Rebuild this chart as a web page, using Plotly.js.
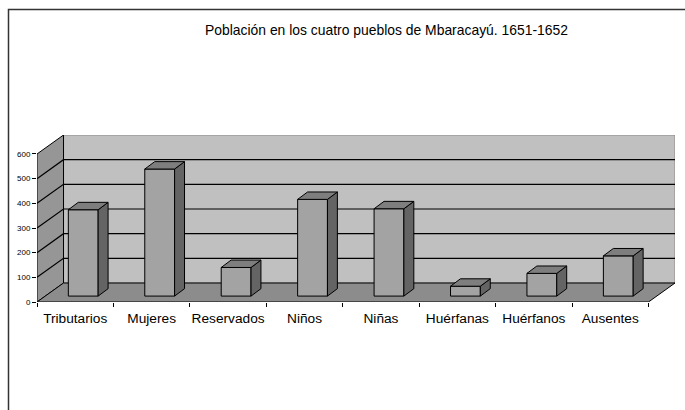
<!DOCTYPE html>
<html>
<head>
<meta charset="utf-8">
<script src="https://cdn.plot.ly/plotly-3.0.1.min.js"></script>
<style>
  html, body { margin: 0; padding: 0; background: #ffffff; }
  #chart { width: 685px; height: 410px; }
</style>
</head>
<body>
<div id="chart"></div>
<script>
// ---- data ----
const categories = ['Tributarios', 'Mujeres', 'Reservados', 'Niños', 'Niñas', 'Huérfanas', 'Huérfanos', 'Ausentes'];
const values = [350, 515, 116, 392, 354, 40, 92, 163];
const yTickVals = [0, 100, 200, 300, 400, 500, 600];
const yTickText = ['0', '100', '200', '300', '400', '500', '600'];
const titleText = 'Población en los cuatro pueblos de Mbaracayú. 1651-1652';

// ---- 3-D look (style constants) ----
const YMAX = 600;          // top of the value scale
const DX = 0.347;          // wall depth, category units
const DY = 77;             // wall depth, value units
const BDX = 0.105;         // bar front offset from front plane
const BDY = 24;
const BW = 0.39;           // bar width
const BDDX = 0.13;         // bar depth
const BDDY = 30;
const N = categories.length;
const X0 = -0.5, X1 = N - 0.5;

const M = { l: 37, r: 10, t: 135, b: 108 };
const W = 685, H = 410;
const plotW = W - M.l - M.r, plotH = H - M.t - M.b;

const idx = categories.map((_, i) => i);

// front faces: real bar trace
const traces = [{
  type: 'bar',
  x: idx.map(i => i + BDX),
  y: values,
  base: values.map(() => BDY),
  width: BW,
  marker: { color: '#a3a3a3', line: { color: '#000000', width: 1 } },
  hoverinfo: 'skip',
  showlegend: false
}];

// side and top faces computed from the values
values.forEach((v, i) => {
  const xl = i + BDX - BW / 2, xr = i + BDX + BW / 2;
  const yb = BDY, yt = BDY + v;
  traces.push({
    type: 'scatter', mode: 'lines', fill: 'toself',
    x: [xr, xr + BDDX, xr + BDDX, xr, xr],
    y: [yb, yb + BDDY, yt + BDDY, yt, yb],
    fillcolor: '#646464', line: { color: '#000000', width: 1 },
    hoverinfo: 'skip', showlegend: false
  });
  traces.push({
    type: 'scatter', mode: 'lines', fill: 'toself',
    x: [xl, xr, xr + BDDX, xl + BDDX, xl],
    y: [yt, yt, yt + BDDY, yt + BDDY, yt],
    fillcolor: '#7e7e7e', line: { color: '#000000', width: 1 },
    hoverinfo: 'skip', showlegend: false
  });
});

// walls, floor and gridlines as shapes beneath the traces
const shapes = [];
shapes.push({ type: 'path', layer: 'below', xref: 'x', yref: 'y',
  path: `M ${X0 + DX},${DY} L ${X1 + DX},${DY} L ${X1 + DX},${YMAX + DY} L ${X0 + DX},${YMAX + DY} Z`,
  fillcolor: '#c0c0c0', line: { color: '#8a8a8a', width: 1 } });
shapes.push({ type: 'path', layer: 'below', xref: 'x', yref: 'y',
  path: `M ${X0},0 L ${X0 + DX},${DY} L ${X0 + DX},${YMAX + DY} L ${X0},${YMAX} Z`,
  fillcolor: '#969696', line: { color: '#000000', width: 1 } });
shapes.push({ type: 'path', layer: 'below', xref: 'x', yref: 'y',
  path: `M ${X0},0 L ${X1},0 L ${X1 + DX},${DY} L ${X0 + DX},${DY} Z`,
  fillcolor: '#8c8c8c', line: { color: '#000000', width: 1 } });
yTickVals.filter(v => v > 0 && v < YMAX).forEach(v => {
  shapes.push({ type: 'path', layer: 'below', xref: 'x', yref: 'y',
    path: `M ${X0},${v} L ${X0 + DX},${v + DY} L ${X1 + DX},${v + DY}`,
    line: { color: '#000000', width: 1.2 } });
});
// outer frame (top and left edges)
const px2x = p => (p - M.l) / plotW;
const py2y = p => (H - M.b - p) / plotH;
shapes.push({ type: 'path', layer: 'above', xref: 'paper', yref: 'paper',
  path: `M ${px2x(8.5)},${py2y(410)} L ${px2x(8.5)},${py2y(9.5)} L ${px2x(685)},${py2y(9.5)}`,
  line: { color: '#333333', width: 1.5 } });

const layout = {
  width: W, height: H,
  margin: M,
  paper_bgcolor: '#ffffff',
  plot_bgcolor: 'rgba(0,0,0,0)',
  font: { family: 'Liberation Sans, Arial, sans-serif', color: '#000000' },
  title: {
    text: titleText,
    font: { size: 13.9, family: 'Liberation Sans, Arial, sans-serif', color: '#000000' },
    xref: 'container', yref: 'container',
    x: 386.5 / W, xanchor: 'center',
    y: 1 - 30 / H, yanchor: 'middle'
  },
  xaxis: {
    range: [X0, X1 + DX],
    showgrid: false, zeroline: false, showline: false,
    tickmode: 'array', tickvals: idx, ticktext: categories,
    ticks: '', tickfont: { size: 13.7 }, ticklabelstandoff: 6,
    minor: { tickmode: 'array', tickvals: idx.concat([N]).map(i => i - 0.5),
             ticks: 'outside', ticklen: 4, tickcolor: '#000000', tickwidth: 1, showgrid: false },
    fixedrange: true
  },
  yaxis: {
    range: [0, YMAX + DY],
    showgrid: false, zeroline: false, showline: false,
    tickmode: 'array', tickvals: yTickVals, ticktext: yTickText,
    ticks: 'outside', ticklen: 4, tickcolor: '#000000',
    tickfont: { size: 8 },
    fixedrange: true
  },
  shapes: shapes,
  showlegend: false,
  bargap: 0
};

Plotly.newPlot('chart', traces, layout, { displayModeBar: false, staticPlot: true });
</script>
</body>
</html>
